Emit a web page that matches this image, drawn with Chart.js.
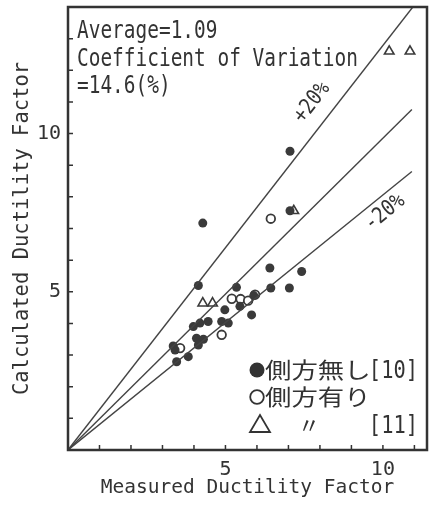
<!DOCTYPE html>
<html>
<head>
<meta charset="utf-8">
<script src="https://cdn.jsdelivr.net/npm/chart.js@4"></script>
<style>
  html, body { margin: 0; padding: 0; background: #fff; }
  #wrap { width: 430px; height: 506px; }
</style>
</head>
<body>
<div id="wrap"><canvas id="c"></canvas></div>
<script>
// measured / calculated ductility factor
const solidX = [4.28, 7.05, 7.05, 4.14, 5.35, 6.41, 7.42, 6.44, 7.03, 5.90, 5.46, 5.83, 4.98, 4.88, 5.09, 4.45, 4.19, 3.98, 4.08, 4.30, 4.14, 3.34, 3.40, 3.82, 3.45];
const solidY = [7.17, 9.44, 7.56, 5.20, 5.14, 5.75, 5.64, 5.12, 5.12, 4.88, 4.54, 4.27, 4.43, 4.06, 4.01, 4.06, 4.01, 3.90, 3.53, 3.50, 3.32, 3.29, 3.16, 2.95, 2.79];
const openX = [6.44, 5.20, 5.48, 5.72, 5.94, 4.88, 3.56];
const openY = [7.31, 4.78, 4.77, 4.72, 4.91, 3.64, 3.22];
const triX = [10.2, 10.86, 7.17, 4.28, 4.59];
const triY = [12.6, 12.6, 7.56, 4.64, 4.64];

// guide lines (end points as drawn)
const upperLine = [[0, 0], [10.95, 14]];
const equalLine = [[0, 0], [10.92, 10.76]];
const lowerLine = [[0, 0], [10.92, 8.8]];

const xTickLabels = [5, 10];
const yTickLabels = [5, 10];

const ink = '#333';

function pts(xs, ys) {
    return xs.map((x, i) => ({ x: x, y: ys[i] }));
}
function seg(line) {
    return line.map(p => ({ x: p[0], y: p[1] }));
}

function lineSet(line) {
    return {
        type: 'line',
        data: seg(line),
        borderColor: '#444',
        borderWidth: 1.4,
        pointRadius: 0,
        showLine: true,
        fill: false
    };
}

// draw text squeezed/stretched horizontally
function drawText(ctx, txt, x, y, font, sx, align) {
    ctx.save();
    ctx.font = font;
    ctx.textBaseline = 'alphabetic';
    ctx.textAlign = align || 'left';
    ctx.translate(x, y);
    ctx.scale(sx, 1);
    ctx.fillText(txt, 0, 0);
    ctx.restore();
}

const framePlugin = {
    id: 'frame',
    afterDatasetsDraw(chart) {
        const ctx = chart.ctx;
        const a = chart.chartArea;
        const xs = chart.scales.x, ys = chart.scales.y;
        ctx.save();
        ctx.strokeStyle = ink;
        ctx.lineWidth = 2.5;
        ctx.strokeRect(a.left, a.top, a.right - a.left, a.bottom - a.top);

        // inward tick marks every unit
        ctx.lineWidth = 1.5;
        ctx.beginPath();
        for (let v = 1; v <= 11; v++) {
            const px = xs.getPixelForValue(v);
            ctx.moveTo(px, a.bottom);
            ctx.lineTo(px, a.bottom - 5);
        }
        for (let v = 1; v <= 13; v++) {
            const py = ys.getPixelForValue(v);
            ctx.moveTo(a.left, py);
            ctx.lineTo(a.left + 5, py);
        }
        ctx.stroke();

        ctx.fillStyle = ink;
        const mono = '24px "DejaVu Sans Mono"';
        drawText(ctx, 'Average=1.09', 77, 38, mono, 0.81);
        drawText(ctx, 'Coefficient of Variation', 77, 66, mono, 0.81);
        drawText(ctx, '=14.6(%)', 77, 93, mono, 0.81);

        // line labels
        const labels = [
            ['+20%', 7.75, 10.98, -52],
            ['-20%', 10.06, 7.5, -39]
        ];
        labels.forEach(l => {
            ctx.save();
            ctx.translate(xs.getPixelForValue(l[1]), ys.getPixelForValue(l[2]));
            ctx.rotate(l[3] * Math.PI / 180);
            ctx.scale(0.85, 1);
            ctx.font = '22px "DejaVu Sans Mono"';
            ctx.textAlign = 'center';
            ctx.textBaseline = 'middle';
            ctx.fillText(l[0], 0, 0);
            ctx.restore();
        });

        // legend
        const cjk = '22px "Noto Sans CJK JP"';
        ctx.lineWidth = 1.8;
        ctx.beginPath();
        ctx.arc(257, 370, 7.5, 0, Math.PI * 2);
        ctx.fill();
        drawText(ctx, '側方無し', 265, 378, cjk, 1.2);
        drawText(ctx, '[10]', 418, 378, mono, 0.85, 'right');

        ctx.beginPath();
        ctx.arc(257, 397, 6.8, 0, Math.PI * 2);
        ctx.stroke();
        drawText(ctx, '側方有り', 265, 405, cjk, 1.2);

        ctx.beginPath();
        ctx.moveTo(250, 432);
        ctx.lineTo(270, 432);
        ctx.lineTo(260, 415);
        ctx.closePath();
        ctx.stroke();
        drawText(ctx, '〃', 298, 433, cjk, 1.0);
        drawText(ctx, '[11]', 418, 433, mono, 0.85, 'right');
        ctx.restore();
    }
};

function fitX(s) {
    s.height = 56;
    s.paddingLeft = 0;
    s.paddingRight = 0;
}
function fitY(s) {
    s.width = 68;
    s.paddingTop = 0;
    s.paddingBottom = 0;
}

new Chart(document.getElementById('c'), {
    type: 'scatter',
    data: {
        datasets: [
            lineSet(upperLine),
            lineSet(equalLine),
            lineSet(lowerLine),
            {
                data: pts(solidX, solidY),
                pointStyle: 'circle',
                pointRadius: 4.5,
                backgroundColor: '#3a3a3a',
                borderColor: '#3a3a3a',
                borderWidth: 0
            },
            {
                data: pts(openX, openY),
                pointStyle: 'circle',
                pointRadius: 4.3,
                backgroundColor: '#fff',
                borderColor: '#3a3a3a',
                borderWidth: 1.8
            },
            {
                data: pts(triX, triY),
                pointStyle: 'triangle',
                pointRadius: 5.5,
                backgroundColor: '#fff',
                borderColor: '#3a3a3a',
                borderWidth: 1.6
            }
        ]
    },
    options: {
        responsive: true,
        maintainAspectRatio: false,
        animation: false,
        layout: { autoPadding: false, padding: { top: 7, right: 3, left: 0, bottom: 0 } },
        plugins: {
            legend: { display: false },
            tooltip: { enabled: false }
        },
        scales: {
            x: {
                type: 'linear',
                min: 0,
                max: 11.4,
                grid: { display: false, drawTicks: false },
                border: { display: false },
                ticks: {
                    stepSize: 1,
                    autoSkip: false,
                    maxRotation: 0,
                    padding: 8,
                    color: ink,
                    font: { family: '"DejaVu Sans Mono"', size: 20 },
                    callback: v => xTickLabels.includes(v) ? String(v) : ''
                },
                title: {
                    display: true,
                    text: 'Measured Ductility Factor',
                    color: ink,
                    font: { family: '"DejaVu Sans Mono"', size: 19.5 },
                    padding: { top: 0, bottom: 6 }
                },
                afterFit: fitX
            },
            y: {
                type: 'linear',
                min: 0,
                max: 14,
                grid: { display: false, drawTicks: false },
                border: { display: false },
                ticks: {
                    stepSize: 1,
                    autoSkip: false,
                    padding: 7,
                    color: ink,
                    font: { family: '"DejaVu Sans Mono"', size: 20 },
                    callback: v => yTickLabels.includes(v) ? String(v) : ''
                },
                title: {
                    display: true,
                    text: 'Calculated Ductility Factor',
                    color: ink,
                    font: { family: '"DejaVu Sans Mono"', size: 20.5 },
                    padding: { top: 10, bottom: 0 }
                },
                afterFit: fitY
            }
        }
    },
    plugins: [framePlugin]
});
</script>
</body>
</html>
